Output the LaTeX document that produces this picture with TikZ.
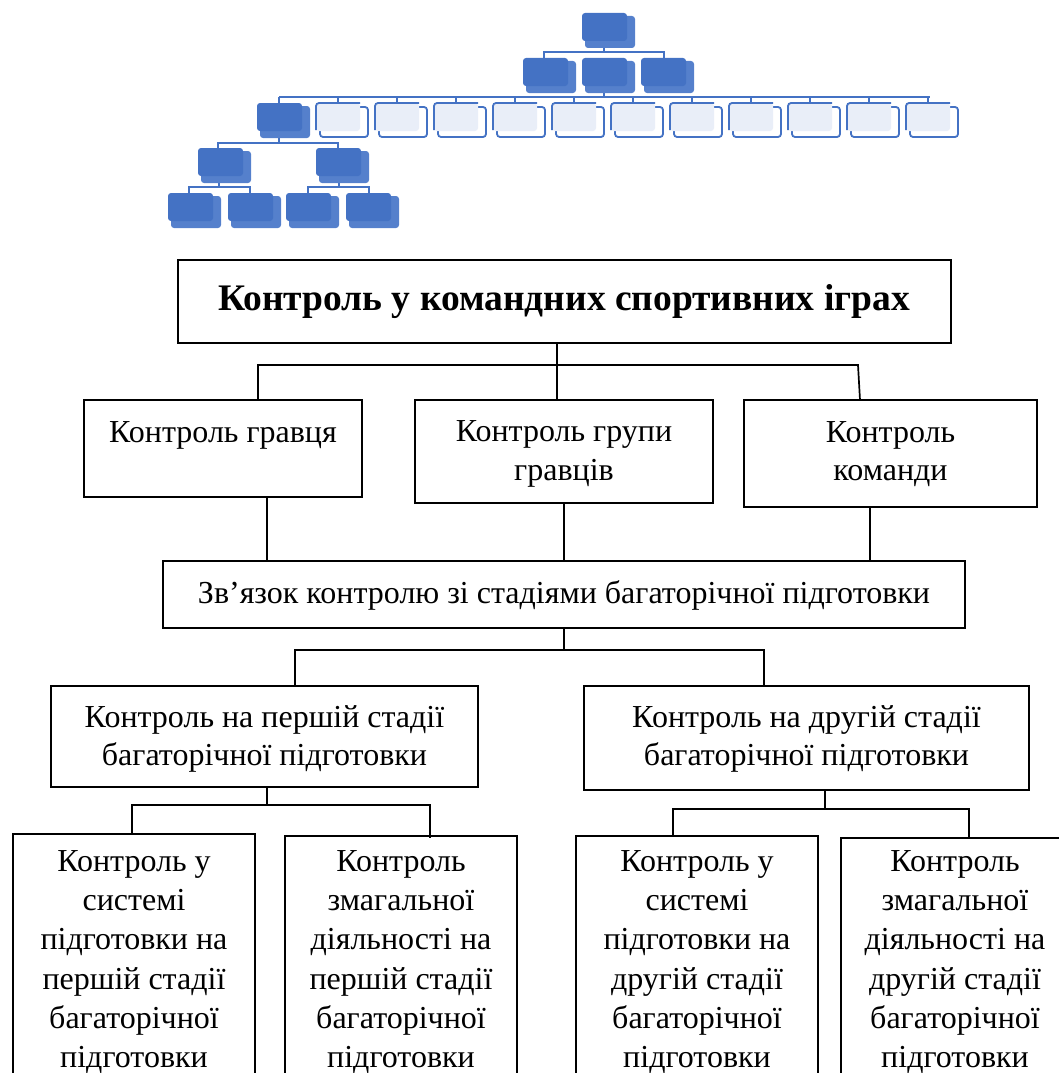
\documentclass[tikz,border=0pt]{standalone}
\usepackage{fontspec}
\setmainfont{Liberation Serif}
\definecolor{iconblue}{HTML}{4472C4}
\definecolor{iconback}{HTML}{5580CC}
\definecolor{iconpale}{HTML}{E9EEF8}
\newcommand{\iconfilled}[2]{%
  \fill[iconback, rounded corners=3] (#1+3,#2+3) rectangle (#1+53,#2+35);
  \fill[iconblue, rounded corners=3] (#1,#2) rectangle (#1+45,#2+28);}
\newcommand{\iconlight}[2]{%
  \filldraw[fill=white, draw=iconblue, line width=1.8, rounded corners=3] (#1+4,#2+4) rectangle (#1+52,#2+34);
  \fill[iconpale, rounded corners=3] (#1,#2) rectangle (#1+44,#2+28);
  \draw[iconblue, line width=1.8, rounded corners=3] (#1,#2+27) -- (#1,#2) -- (#1+44,#2);}
\begin{document}
\begin{tikzpicture}[x=1pt,y=-1pt,
  box/.style={draw, line width=1.7pt, inner sep=0pt, outer sep=0pt},
  txt/.style={inner sep=0pt, align=center, font=\fontsize{32}{38.5}\selectfont},
  txtb/.style={inner sep=0pt, align=center, font=\fontsize{32}{39.3}\selectfont},
  conn/.style={line width=1.7pt},
  iconline/.style={draw=iconblue, line width=1.6pt}]
\useasboundingbox (0,0) rectangle (1059,1073);

% ---------- decorative org-chart icon ----------
\draw[iconline] (604,45) -- (604,52);
\draw[iconline] (544,58) -- (544,52) -- (664,52) -- (664,58);
\draw[iconline] (604,90) -- (604,97);
\draw[iconline] (279,97) -- (930,97);
\foreach \i in {0,...,11} {\draw[iconline] ({257+59*\i+22},97) -- ({257+59*\i+22},103);}
\draw[iconline] (279,135) -- (279,143);
\draw[iconline] (218,148) -- (218,143) -- (338,143) -- (338,148);
\draw[iconline] (219,180) -- (219,187);
\draw[iconline] (189,193) -- (189,187) -- (250,187) -- (250,193);
\draw[iconline] (339,180) -- (339,187);
\draw[iconline] (308,193) -- (308,187) -- (369,187) -- (369,193);
\iconfilled{582}{13}
\iconfilled{523}{58}
\iconfilled{582}{58}
\iconfilled{641}{58}
\iconfilled{257}{103}
\foreach \i in {1,...,11} {\iconlight{257+59*\i}{103}}
\iconfilled{198}{148}
\iconfilled{316}{148}
\iconfilled{168}{193}
\iconfilled{228}{193}
\iconfilled{286}{193}
\iconfilled{346}{193}

% ---------- boxes ----------
\node[box, minimum width=773, minimum height=83] (T) at (564.5,301.5) {};
\node[box, minimum width=278, minimum height=97] (A) at (223,448.5) {};
\node[box, minimum width=298, minimum height=103] (B) at (564,451.5) {};
\node[box, minimum width=293, minimum height=107] (C) at (890.5,453.5) {};
\node[box, minimum width=802, minimum height=67] (Z) at (564,594.5) {};
\node[box, minimum width=427, minimum height=101] (S1) at (264.5,736.5) {};
\node[box, minimum width=445, minimum height=104] (S2) at (806.5,738) {};
\node[box, minimum width=242, minimum height=276] (L1) at (134,972) {};
\node[box, minimum width=232, minimum height=274] (L2) at (401,973) {};
\node[box, minimum width=242, minimum height=274] (L3) at (697,973) {};
\node[box, minimum width=228, minimum height=272] (L4) at (955,974) {};

% ---------- texts ----------
\node[inner sep=0pt, font=\bfseries\fontsize{37.5}{42}\selectfont] (Tt) at (564,302) {Контроль у командних спортивних іграх};
\node[txt] (At) at (223,435) {Контроль гравця};
\node[txt] (Bt) at (564,454) {Контроль групи\\гравців};
\node[txt] (Ct) at (890.5,454) {Контроль\\команди};
\node[txt] (Zt) at (564,595.5) {Зв’язок контролю зі стадіями багаторічної підготовки};
\node[txt] (S1t) at (264.5,739) {Контроль на першій стадії\\багаторічної підготовки};
\node[txt] (S2t) at (806.5,739) {Контроль на другій стадії\\багаторічної підготовки};
\node[txtb] (L1t) at (134,962) {Контроль у\\системі\\підготовки на\\першій стадії\\багаторічної\\підготовки};
\node[txtb] (L2t) at (401,962) {Контроль\\змагальної\\діяльності на\\першій стадії\\багаторічної\\підготовки};
\node[txtb] (L3t) at (697,962) {Контроль у\\системі\\підготовки на\\другій стадії\\багаторічної\\підготовки};
\node[txtb] (L4t) at (955,962) {Контроль\\змагальної\\діяльності на\\другій стадії\\багаторічної\\підготовки};

% ---------- connectors ----------
\coordinate (j1) at (557,365);
\coordinate (a1) at (258,400);
\coordinate (c1) at (860,400);
\draw[conn] (T.south -| j1) -- (j1);
\draw[conn] (j1) -- (B.north -| j1);
\draw[conn] (a1) -- (258,365) -- (858,365) -- (c1);

\coordinate (ax) at (267,560);
\coordinate (cx) at (870,560);
\draw[conn] (A.south -| ax) -- (Z.north -| ax);
\draw[conn] (B.south) -- (Z.north -| B.south);
\draw[conn] (C.south -| cx) -- (Z.north -| cx);

\coordinate (j2) at (564,650);
\coordinate (s1top) at (295,686);
\coordinate (s2top) at (764,686);
\draw[conn] (Z.south) -- (j2);
\draw[conn] (s1top) |- (j2) -| (s2top);

\coordinate (j3) at (267,805);
\coordinate (l1top) at (132,834);
\coordinate (l2top) at (430,838);
\draw[conn] (S1.south -| j3) -- (j3);
\draw[conn] (l1top) |- (j3) -| (l2top);

\coordinate (j4) at (825,809);
\coordinate (l3top) at (673,836);
\coordinate (l4top) at (969,838);
\draw[conn] (S2.south -| j4) -- (j4);
\draw[conn] (l3top) |- (j4) -| (l4top);
\end{tikzpicture}
\end{document}
